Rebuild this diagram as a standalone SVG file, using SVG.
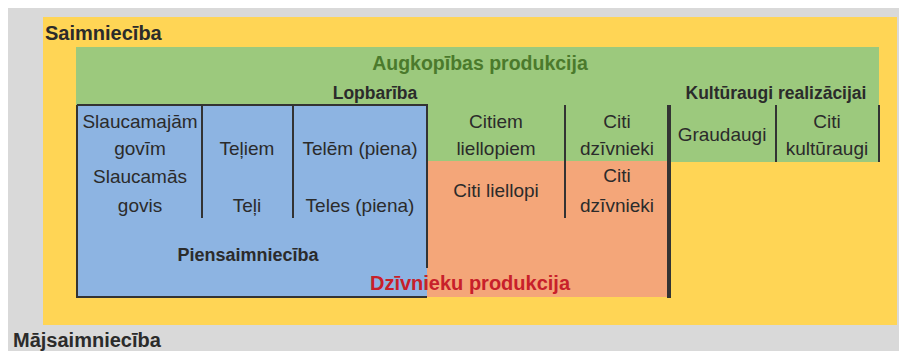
<svg xmlns="http://www.w3.org/2000/svg" width="899" height="351" viewBox="0 0 899 351">
<style>
text{font-family:"Liberation Sans",Arial,sans-serif;fill:#2b2b2b;text-anchor:middle}
.b{font-weight:bold}
.c{font-size:19px}
.div{stroke:#333;stroke-width:2}
.thick{stroke:#333;stroke-width:4}
</style>
<rect x="0" y="0" width="899" height="351" fill="#ffffff"/>
<g id="majsaimnieciba">
<rect x="8" y="8" width="891" height="343" fill="#d9d9d9"/>
<text x="13" y="347" class="b" font-size="20" style="text-anchor:start">Mājsaimniecība</text>
</g>
<g id="saimnieciba">
<rect x="43" y="17" width="854" height="308" fill="#ffd555"/>
<text x="45" y="40" class="b" font-size="20" style="text-anchor:start">Saimniecība</text>
</g>
<g id="augkopiba">
<rect x="76" y="47" width="803" height="115" fill="#9cc97d"/>
<text x="480" y="70" class="b" font-size="19.5" style="fill:#4b7a2c">Augkopības produkcija</text>
</g>
<g id="lopbariba">
<text x="375" y="99" class="b" font-size="17.5">Lopbarība</text>
</g>
<g id="kulturaugi">
<text x="776" y="99" class="b" font-size="17.5">Kultūraugi realizācijai</text>
<text x="722" y="141" class="c">Graudaugi</text>
<text x="827" y="128" class="c">Citi</text>
<text x="827" y="155" class="c">kultūraugi</text>
</g>
<g id="dzivnieku-produkcija">
<rect x="427" y="161" width="243" height="136" fill="#f4a679"/>
</g>
<g id="piensaimnieciba">
<rect x="77" y="105" width="350" height="192" fill="#8db4e2"/>
<path d="M77 105 H427 V268 M77 105 V297 H427" fill="none" stroke="#333" stroke-width="2"/>
<text x="248" y="261" class="b" font-size="18">Piensaimniecība</text>
</g>
<g id="cells">
<text x="140" y="128" class="c">Slaucamajām</text>
<text x="140" y="155" class="c">govīm</text>
<text x="247" y="155" class="c">Teļiem</text>
<text x="360" y="155" class="c">Telēm (piena)</text>
<text x="140" y="183" class="c">Slaucamās</text>
<text x="140" y="212" class="c">govis</text>
<text x="247" y="212" class="c">Teļi</text>
<text x="360" y="212" class="c">Teles (piena)</text>
<text x="496" y="128" class="c">Citiem</text>
<text x="496" y="155" class="c">liellopiem</text>
<text x="617" y="128" class="c">Citi</text>
<text x="617" y="155" class="c">dzīvnieki</text>
<text x="496" y="197" class="c">Citi liellopi</text>
<text x="617" y="182" class="c">Citi</text>
<text x="617" y="212" class="c">dzīvnieki</text>
</g>
<g id="dzivnieku-label">
<text x="470" y="290" class="b" font-size="20" style="fill:#c8202a">Dzīvnieku produkcija</text>
</g>
<g id="connectors">
<line class="div" x1="202" y1="105" x2="202" y2="218"/>
<line class="div" x1="293" y1="105" x2="293" y2="218"/>
<line class="div" x1="565" y1="105" x2="565" y2="218"/>
<line class="div" x1="776" y1="105" x2="776" y2="162"/>
<line class="div" x1="879" y1="105" x2="879" y2="162"/>
<line class="thick" x1="669" y1="105" x2="669" y2="298"/>
</g>
</svg>
